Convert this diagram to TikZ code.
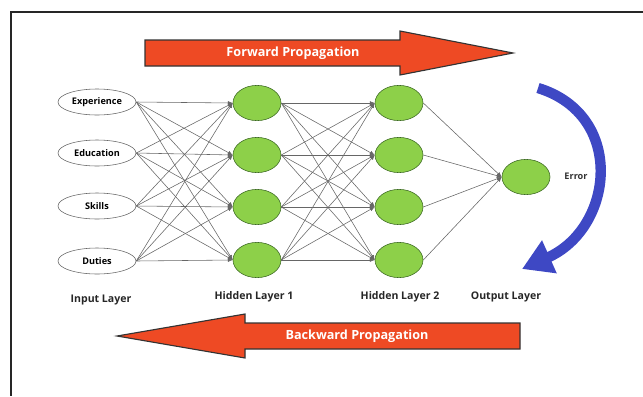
\documentclass[tikz,border=0pt]{standalone}
\usepackage{fontspec}
\setmainfont{Open Sans}
\usetikzlibrary{arrows.meta,shapes.geometric}

\definecolor{proparrow}{RGB}{238,74,36}
\definecolor{errorblue}{RGB}{62,72,196}
\definecolor{neurongreen}{RGB}{141,208,73}
\definecolor{neuronedge}{RGB}{60,105,35}

\tikzset{
    inputnode/.style={draw=black!60, ellipse, fill=white, inner sep=0pt,
        minimum width=1.95cm, minimum height=0.65cm,
        font=\fontsize{6.5}{8}\selectfont\bfseries},
    neuron/.style={draw=neuronedge, ellipse, fill=neurongreen, inner sep=0pt,
        minimum width=1.2cm, minimum height=0.88cm},
    layerlabel/.style={font=\fontsize{7.5}{9}\selectfont\bfseries, text=black!85},
    arrowtext/.style={font=\fontsize{9}{11}\selectfont\bfseries, text=white},
    link/.style={draw=black!60, line width=0.4pt, -{Latex[length=3.5pt,width=2.8pt]}},
}

\begin{document}
\begin{tikzpicture}[x=0.025cm, y=-0.025cm]
    \useasboundingbox (0,0) rectangle (643,396);
    % frame
    \draw [line width=1.3pt, black!85] (643,12) -- (11,12) -- (11,396);

    % big arrows
    \draw [fill=proparrow, draw=black!80, line width=0.8pt]
        (145,40) -- (400,40) -- (400,31) -- (513,53) -- (400,75) -- (400,66) -- (145,66) -- cycle;
    \node [arrowtext] (fwd) at (293,53) {Forward Propagation};
    \draw [fill=proparrow, draw=black!80, line width=0.8pt]
        (520,323) -- (245,323) -- (245,314) -- (117,336) -- (245,358) -- (245,349) -- (520,349) -- cycle;
    \node [arrowtext] (bwd) at (357,336) {Backward Propagation};

    % input layer
    \node [inputnode] (in1) at (97,102) {Experience};
    \node [inputnode] (in2) at (97,153) {Education};
    \node [inputnode] (in3) at (97,206) {Skills};
    \node [inputnode] (in4) at (97,261) {Duties};

    % hidden layers
    \foreach \i/\y in {1/103, 2/155, 3/207, 4/260} {
        \node [neuron] (ha\i) at (257,\y) {};
        \node [neuron] (hb\i) at (399,\y) {};
    }
    \node [neuron] (out) at (526,177) {};

    % connections
    \foreach \i in {1,...,4}
        \foreach \j in {1,...,4} {
            \draw [link] (in\i.east) -- (ha\j.west);
            \draw [link] (ha\i.east) -- (hb\j.west);
        }
    \foreach \i in {1,...,4}
        \draw [link] (hb\i.east) -- (out.west);

    % layer names
    \node [layerlabel] (lin) at (101,300) {Input Layer};
    \node [layerlabel] (lh1) at (254,297) {Hidden Layer 1};
    \node [layerlabel] (lh2) at (400,297) {Hidden Layer 2};
    \node [layerlabel] (lout) at (506,297) {Output Layer};

    % error arrow
    \draw [errorblue, line width=0.26cm, -{Triangle[length=0.75cm,width=0.85cm]}]
        (538,88) .. controls (626,115) and (614,228) .. (522,269);
    \node [font=\fontsize{6.5}{8}\selectfont\bfseries, text=black!80] (err) at (576,176) {Error};
\end{tikzpicture}
\end{document}
